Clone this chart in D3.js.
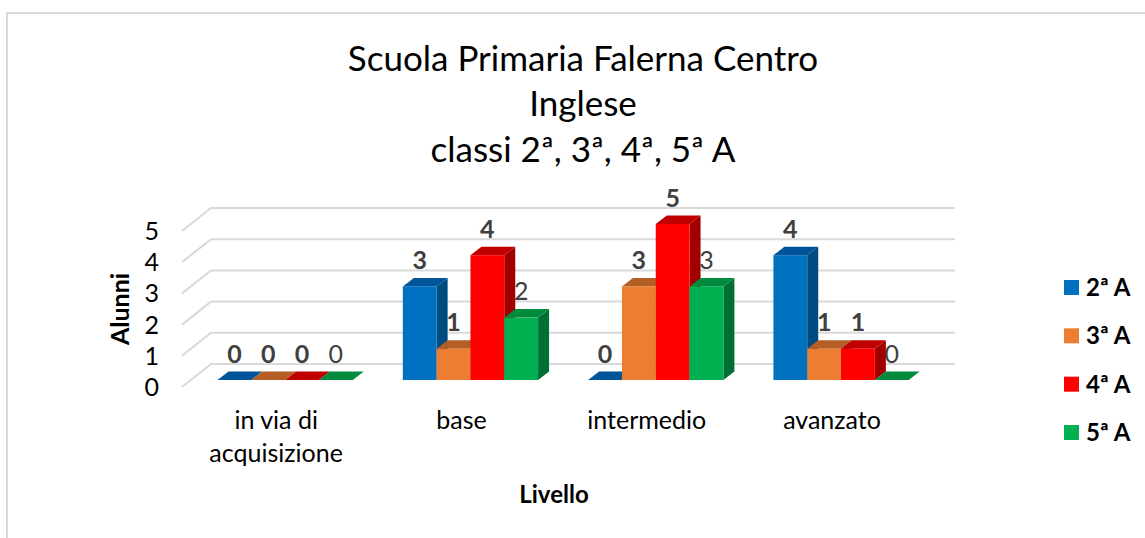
<!DOCTYPE html>
<html><head><meta charset="utf-8">
<script src="https://d3js.org/d3.v7.min.js"></script>
<style>html,body{margin:0;padding:0;background:#fff}svg{display:block}text{font-family:Lato,"Open Sans",sans-serif}</style>
</head><body><div id="c"></div>
<script>
const categories=[["in via di","acquisizione"],["base"],["intermedio"],["avanzato"]];
const seriesNames=["2ª A","3ª A","4ª A","5ª A"];
const s2A=[0,3,0,4];
const s3A=[0,1,3,1];
const s4A=[0,4,5,1];
const s5A=[0,2,3,0];
const seriesValues=[s2A,s3A,s4A,s5A];
const titleLines=["Scuola Primaria Falerna Centro","Inglese","classi 2ª, 3ª, 4ª, 5ª A"];
const yTicks=[0,1,2,3,4,5];
const front=["#0070c0","#ed7d31","#ff0000","#00b050"];
const top_=["#00559a","#b55f26","#c00000","#008a3e"];
const side=["#004b80","#9e5220","#a00000","#006f33"];

const W=1145,H=538,dx=11,dy=8.5;
const svg=d3.select("#c").append("svg").attr("width",W).attr("height",H);
svg.append("path").attr("d",`M7,${H}V13H${W}`).attr("fill","none").attr("stroke","#d9d9d9").attr("stroke-width",2);

const y=d3.scaleLinear().domain([0,5]).range([380,224]);
const x0=d3.scaleBand().domain(d3.range(categories.length)).range([192.5,933.7]).paddingInner(0.27).paddingOuter(0.135);
const x1=d3.scaleBand().domain(d3.range(seriesNames.length)).range([0,x0.bandwidth()]);

// walls
const grid=svg.append("g").attr("fill","none").attr("stroke","#d9d9d9").attr("stroke-width",2);
yTicks.forEach(t=>{
  const yy=y(t);
  grid.append("path").attr("d",`M182,${yy+7}L211,${yy-16}H955`);
});

// y axis labels
const yAxis=d3.axisLeft(y).tickValues(yTicks).tickFormat(d3.format("d")).tickSize(0).tickPadding(0);
const ya=svg.append("g").attr("transform","translate(159,7.5)").call(yAxis);
ya.select(".domain").remove();
ya.selectAll("text").attr("font-size",25).attr("fill","#000").style("font-family",'Lato,"Open Sans",sans-serif');

function label(g,c,s){
  const v=seriesValues[s][c];
  g.append("text").attr("x",x0(c)+x1(s)+x1.bandwidth()/2).attr("y",y(v)-26.5).attr("dy","0.36em")
   .attr("text-anchor","middle").attr("font-size",25).attr("font-weight",s===3?400:700)
   .attr("fill","#404040").text(v);
}
// fifth-series labels sit behind the bars
const under=svg.append("g");
categories.forEach((_,c)=>label(under,c,3));

const bars=svg.append("g");
categories.forEach((_,c)=>{
  seriesNames.forEach((_,s)=>{
    const v=seriesValues[s][c],xl=x0(c)+x1(s),w=x1.bandwidth(),yt=y(v),yb=y(0);
    if(v>0){
      bars.append("path").attr("fill",side[s]).attr("d",`M${xl+w},${yt}L${xl+w+dx},${yt-dy}V${yb-dy}L${xl+w},${yb}Z`);
    }
    bars.append("path").attr("fill",top_[s]).attr("d",`M${xl},${yt}H${xl+w}L${xl+w+dx},${yt-dy}H${xl+dx}Z`);
    if(v>0){
      bars.append("rect").attr("x",xl).attr("y",yt).attr("width",w).attr("height",yb-yt).attr("fill",front[s]);
    }
  });
});
const over=svg.append("g");
categories.forEach((_,c)=>{[0,1,2].forEach(s=>label(over,c,s));});

// category labels
categories.forEach((lines,c)=>{
  const cx=x0(c)+x0.bandwidth()/2-9;
  lines.forEach((t,i)=>{
    svg.append("text").attr("x",cx).attr("y",420+i*33).attr("dy","0.36em").attr("text-anchor","middle")
      .attr("font-size",25).attr("fill","#000").text(t);
  });
});

// titles
titleLines.forEach((t,i)=>{
  svg.append("text").attr("x",583).attr("y",58+i*45.5).attr("dy","0.36em").attr("text-anchor","middle")
    .attr("font-size",35).attr("fill","#000").text(t);
});
svg.append("text").attr("x",554).attr("y",494).attr("dy","0.36em").attr("text-anchor","middle")
  .attr("font-size",24).attr("font-weight",700).attr("fill","#000").text("Livello");
svg.append("text").attr("transform","translate(120,309) rotate(-90)").attr("dy","0.36em").attr("text-anchor","middle")
  .attr("font-size",25).attr("font-weight",700).attr("fill","#000").text("Alunni");

// legend
const ly=d3.scalePoint().domain(d3.range(seriesNames.length)).range([287.5,432.5]);
seriesNames.forEach((n,s)=>{
  svg.append("rect").attr("x",1064).attr("y",ly(s)-7.5).attr("width",15).attr("height",15).attr("fill",front[s]);
  svg.append("text").attr("x",1086).attr("y",ly(s)).attr("dy","0.36em").attr("font-size",24).attr("font-weight",700).attr("fill","#000").text(n);
});
</script></body></html>
